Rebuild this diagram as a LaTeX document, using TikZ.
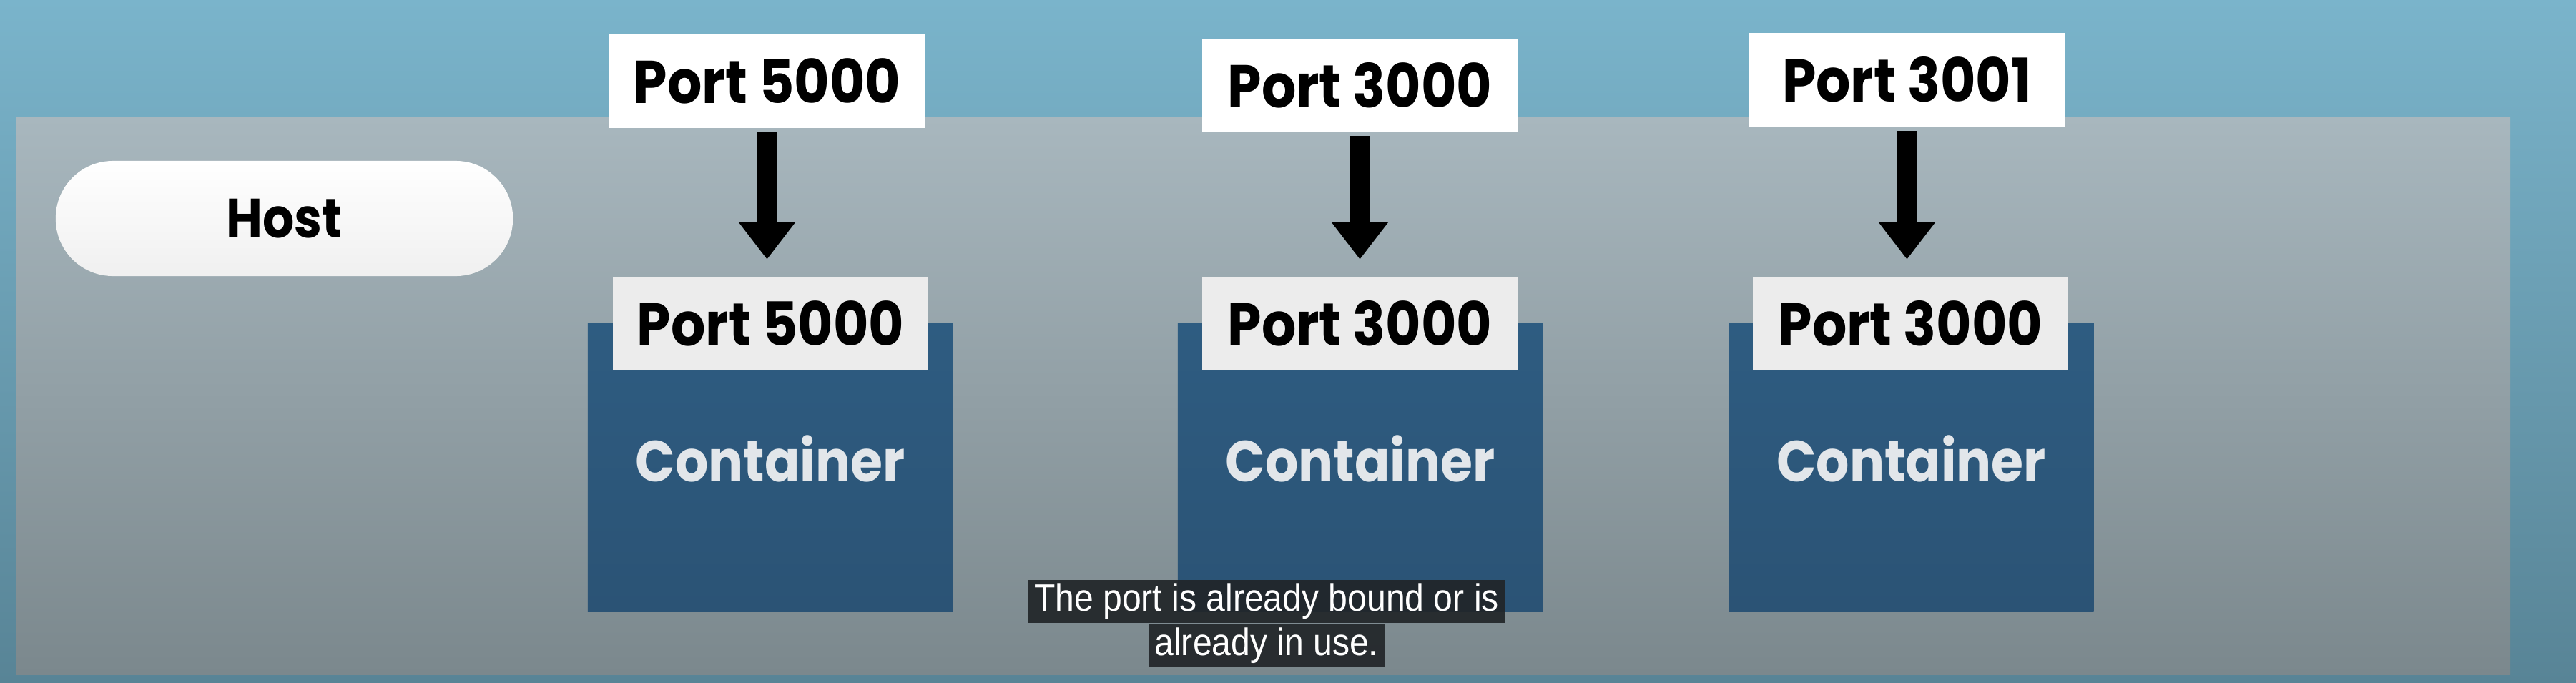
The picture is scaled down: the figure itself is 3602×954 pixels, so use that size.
\documentclass[tikz,border=0pt]{standalone}
\usepackage{fontspec}
\setmainfont{Poppins}[FakeStretch=0.9]
\newfontfamily\capfont{Liberation Sans}[FakeStretch=0.9]
\usetikzlibrary{arrows.meta,positioning}
\definecolor{skytop}{RGB}{122,180,203}
\definecolor{skybot}{RGB}{88,132,150}
\definecolor{hosttop}{RGB}{168,183,190}
\definecolor{hostbot}{RGB}{123,136,141}
\definecolor{ctrblue}{RGB}{46,92,129}
\definecolor{ctrbot}{RGB}{43,83,117}
\definecolor{ctrtext}{RGB}{226,230,234}
\definecolor{lowport}{RGB}{236,236,236}
\definecolor{capbg}{RGB}{33,37,40}
\tikzset{
  hostport/.style={fill=white, minimum width=4.41cm, minimum height=1.31cm,
    inner sep=0pt, font=\fontsize{24}{26}\selectfont\bfseries},
  ctrport/.style={hostport, fill=lowport, minimum height=1.29cm},
  ctrbox/.style={top color=ctrblue, bottom color=ctrbot, minimum width=5.1cm,
    minimum height=4.03cm, inner sep=0pt, text=ctrtext, text depth=0.24cm,
    font=\fontsize{23}{25}\selectfont\bfseries},
  maparrow/.style={line width=0.29cm, -{Triangle[width=0.76cm, length=0.52cm]}},
  capline/.style={fill=capbg, fill opacity=0.92, text opacity=1, text=white,
    inner sep=0pt, minimum height=0.6cm, font=\capfont\fontsize{15.2}{17}\selectfont},
}
\begin{document}
\begin{tikzpicture}[x=0.01cm, y=-0.01cm]
\useasboundingbox (0,0) rectangle (3602,954);
% backdrop and host area
\shade[top color=skytop, bottom color=skybot] (0,0) rectangle (3602,954);
\shade[top color=hosttop, bottom color=hostbot] (22,164) rectangle (3510,943);
% host label
\node[rounded corners=0.8cm, top color=white, bottom color=gray!12,
  minimum width=6.39cm, minimum height=1.61cm, inner sep=0pt,
  font=\fontsize{22}{24}\selectfont\bfseries] (host) at (397.5,305.5) {Host};
% published ports on the host
\node[hostport] (hp1) at (1072.5,113.5) {Port 5000};
\node[hostport, minimum height=1.29cm] (hp2) at (1901.5,119.5) {Port 3000};
\node[hostport] (hp3) at (2666.5,111.5) {Port 3001};
% containers with their internal ports
\node[ctrbox] (c1) at (1077,653.5) {Container};
\node[ctrbox] (c2) at (1902,653.5) {Container};
\node[ctrbox] (c3) at (2672.5,653.5) {Container};
\node[ctrport] (cp1) at (1077.5,452.5) {Port 5000};
\node[ctrport] (cp2) at (1901.5,452.5) {Port 3000};
\node[ctrport] (cp3) at (2671.5,452.5) {Port 3000};
% port mappings
\foreach \i in {1,2,3}
  \draw[maparrow, shorten <=1.5pt, shorten >=7pt] (hp\i.south) -- (hp\i.south |- cp\i.north);
% subtitle
\node[capline, minimum width=6.66cm] (sub1) at (1771,841) {The port is already bound or is};
\node[capline, minimum width=3.30cm, below=0pt of sub1] (sub2) {already in use.};
\end{tikzpicture}
\end{document}
